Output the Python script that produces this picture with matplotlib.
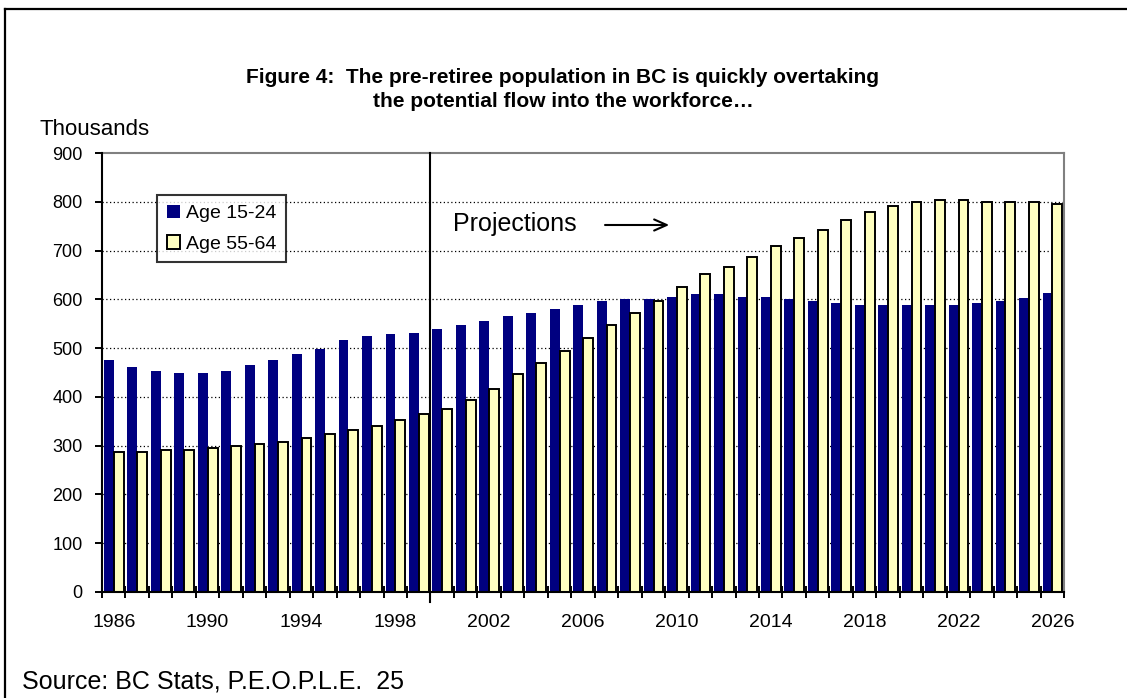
import matplotlib
matplotlib.use("Agg")
import matplotlib.pyplot as plt
from matplotlib.lines import Line2D

plt.rcParams['font.family'] = ['Liberation Sans', 'DejaVu Sans']

# data (thousands)
years = list(range(1986, 2027))
age_15_24 = [475, 462, 454, 450, 450, 454, 466, 475, 487, 499,
             516, 524, 528, 532,
             540, 548, 556, 565, 573, 581, 589, 597, 601, 601, 605, 610, 610, 605, 605,
             600, 596, 592, 588, 588, 588, 588, 588, 592, 596, 603, 612]
age_55_64 = [287, 287, 291, 291, 295, 299, 303, 307, 316, 324, 332, 340, 352, 365,
             376, 393, 417, 446, 470, 495, 520, 548, 573, 597, 626, 651, 667, 687,
             709, 726, 742, 763, 779, 792, 800, 804, 804, 800, 800, 800, 796]
label_years = [str(y) for y in range(1986, 2027, 4)]
y_ticks = list(range(0, 1000, 100))
projection_start = 2000

W, H = 1127, 698
fig = plt.figure(figsize=(W / 100, H / 100), dpi=100)
ax = fig.add_axes([102 / W, 1 - 592 / H, (1064 - 102) / W, (592 - 153) / H])

x = list(range(len(years)))
bw = 0.42
ax.bar([i - 0.205 for i in x], age_15_24, width=bw, color='#000080',
       linewidth=0, label='Age 15-24', zorder=2)
ax.bar([i + 0.215 for i in x], age_55_64, width=bw, color='#FFFFC0',
       edgecolor='black', linewidth=1.4, label='Age 55-64', zorder=2)

ax.set_xlim(-0.5, len(years) - 0.5)
ax.set_ylim(0, 900)

# gridlines
ax.set_yticks(y_ticks)
ax.set_yticklabels([str(v) for v in y_ticks], fontsize=13)
for v in y_ticks[1:-1]:
    ax.axhline(v, color='black', lw=0.9, ls=(0, (1, 2)), zorder=1)

# ticks between categories, labels every 4 years
ax.set_xticks([i - 0.5 for i in range(len(years) + 1)])
ax.set_xticklabels([])
ax.set_xticks([years.index(int(s)) for s in label_years], label_years, minor=True)
ax.tick_params(axis='x', which='major', direction='inout', length=8.5, width=1.4, color='black')
ax.tick_params(axis='x', which='minor', length=0, pad=16, labelsize=14)
ax.tick_params(axis='y', direction='out', length=5, width=1.4, pad=9, color='black')

for s in ['left', 'bottom']:
    ax.spines[s].set_color('black')
    ax.spines[s].set_linewidth(1.5)
for s in ['top', 'right']:
    ax.spines[s].set_color('#808080')
    ax.spines[s].set_linewidth(1.5)
ax.spines['left'].set_zorder(3)

# projection divider
xp = years.index(projection_start) - 0.5
ax.plot([xp, xp], [1, -0.023], color='black', lw=1.5, clip_on=False,
        transform=ax.get_xaxis_transform(), zorder=4)
ax.text(0.3649, 0.822, 'Projections', transform=ax.transAxes, fontsize=18,
        ha='left', va='baseline')
ax.annotate('', xy=(0.5925, 0.836), xytext=(0.52, 0.836), xycoords='axes fraction',
            arrowprops=dict(arrowstyle='->,head_length=0.9,head_width=0.4', lw=1.5, color='black'))

leg = ax.legend(loc='upper left', bbox_to_anchor=(157 / W, 1 - 195 / H),
                bbox_transform=fig.transFigure, borderaxespad=0, fontsize=14,
                frameon=True, fancybox=False, edgecolor='black',
                handlelength=0.7, handleheight=0.7, handletextpad=0.3,
                borderpad=0.5, labelspacing=0.65)
leg.get_frame().set_linewidth(1.5)
leg.set_zorder(5)

# titles and notes
fig.text(563 / W, 1 - 83 / H, 'Figure 4:  The pre-retiree population in BC is quickly overtaking',
         ha='center', va='baseline', fontsize=15, fontweight='bold')
fig.text(563 / W, 1 - 107 / H, 'the potential flow into the workforce\u2026',
         ha='center', va='baseline', fontsize=15, fontweight='bold')
fig.text(40 / W, 1 - 135 / H, 'Thousands', ha='left', va='baseline', fontsize=16)
fig.text(22 / W, 1 - 688 / H, 'Source: BC Stats, P.E.O.P.L.E.  25', ha='left',
         va='baseline', fontsize=18)

# outer frame (top and left edges visible)
fig.add_artist(Line2D([5 / W, 1], [1 - 9 / H, 1 - 9 / H], color='black', lw=1.6,
                      transform=fig.transFigure))
fig.add_artist(Line2D([5 / W, 5 / W], [0, 1 - 9 / H], color='black', lw=1.6,
                      transform=fig.transFigure))

fig.savefig('out.png', dpi=100)
